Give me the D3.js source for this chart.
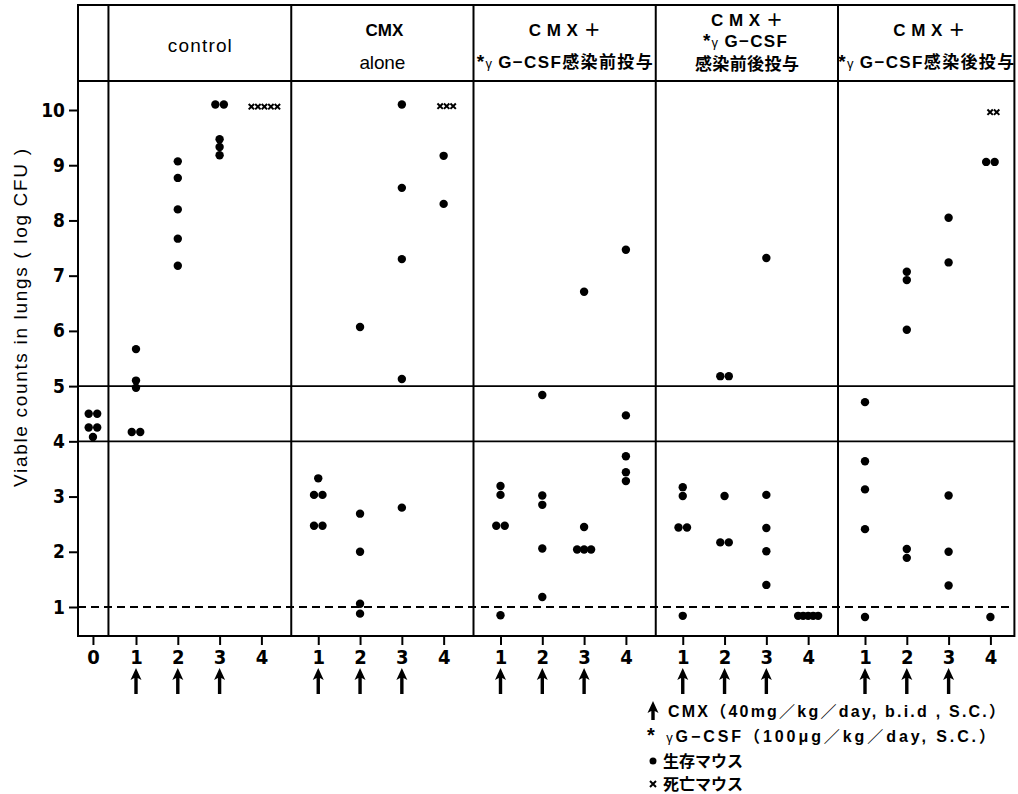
<!DOCTYPE html>
<html><head><meta charset="utf-8">
<script src="https://cdn.jsdelivr.net/npm/d3@7"></script>
<style>body{margin:0;background:#fff}</style>
</head><body><svg id="c" width="1018" height="794"></svg>
<script>
// ---------- data ----------
const groupNames = ["control", "CMX alone", "CMX+ γG-CSF 感染前投与", "CMX+ γG-CSF 感染前後投与", "CMX+ γG-CSF 感染後投与"];
const dayLabels = [1, 2, 3, 4];
const yTickValues = [1, 2, 3, 4, 5, 6, 7, 8, 9, 10];
const cmxDays = [1, 2, 3];
const detectionLimit = 1;
const bandLines = [4, 5];

const day0Alive = [4.5, 4.5, 4.25, 4.25, 4.08];

const controlAlive = [[5.67, 5.1, 4.97, 4.17, 4.17], [9.07, 8.77, 8.2, 7.67, 7.18], [10.1, 10.1, 9.47, 9.33, 9.18], []];
const controlDead  = [[], [], [], [10.06, 10.06, 10.06, 10.06, 10.06]];

const aloneAlive = [[3.33, 3.03, 3.03, 2.47, 2.47], [6.07, 2.69, 2.0, 1.06, 0.88], [10.1, 8.59, 7.3, 5.13, 2.8], [9.17, 8.3]];
const aloneDead  = [[], [], [], [10.07, 10.07, 10.07]];

const preAlive = [[3.19, 3.03, 2.47, 2.47, 0.85], [4.84, 3.02, 2.85, 2.06, 1.18], [6.71, 2.45, 2.04, 2.04, 2.04], [7.47, 4.47, 3.73, 3.44, 3.28]];
const preDead  = [[], [], [], []];

const prePostAlive = [[3.17, 3.01, 2.44, 2.44, 0.84], [5.18, 5.18, 3.01, 2.17, 2.17], [7.32, 3.03, 2.43, 2.01, 1.4], [0.84, 0.84, 0.84, 0.84, 0.84]];
const prePostDead  = [[], [], [], []];

const postAlive = [[4.71, 3.64, 3.13, 2.41, 0.82], [7.07, 6.92, 6.02, 2.05, 1.89], [8.05, 7.24, 3.02, 2.0, 1.39], [9.06, 9.06, 0.82]];
const postDead  = [[], [], [], [9.96, 9.96]];

const aliveByGroup = [controlAlive, aloneAlive, preAlive, prePostAlive, postAlive];
const deadByGroup = [controlDead, aloneDead, preDead, prePostDead, postDead];

// ---------- layout ----------
const svg = d3.select("#c");
const y = d3.scaleLinear().domain([1, 10]).range([607, 110]);
const slot = d3.scaleLinear().domain([0, 1]).range([136, 177.8]);
const groupStride = 182.25 / 41.8;
const xpos = (g, k) => slot(g * groupStride + k - 1);
const day0Slot = -1.03;

const frameTop = 5, headerBottom = 81, frameBottom = 636, frameLeft = 78;
const frameRight = xpos(4, 4) + 24;
const sepX = [slot(day0Slot) + 15.5].concat(d3.range(1, 5).map(g => xpos(g, 1) - 27));

const LAT = "'Liberation Sans', Arial, 'Noto Sans CJK JP', sans-serif";
const NAR = "'Liberation Sans Narrow', 'Arial Narrow', 'DejaVu Sans Condensed', sans-serif";
const CJK = "'Liberation Sans', 'Noto Sans CJK JP', sans-serif";

// horizontal band lines
svg.selectAll(".band").data(bandLines).join("line")
  .attr("x1", frameLeft).attr("x2", frameRight)
  .attr("y1", d => y(d)).attr("y2", d => y(d))
  .attr("stroke", "#000").attr("stroke-width", 1.8);

// detection limit dashed line
svg.append("line").attr("x1", frameLeft).attr("x2", frameRight)
  .attr("y1", y(detectionLimit)).attr("y2", y(detectionLimit))
  .attr("stroke", "#000").attr("stroke-width", 2).attr("stroke-dasharray", "8,5");

// header line + separators + frame
svg.append("line").attr("x1", frameLeft).attr("x2", frameRight).attr("y1", headerBottom).attr("y2", headerBottom)
  .attr("stroke", "#000").attr("stroke-width", 2);
svg.selectAll(".sep").data(sepX).join("line")
  .attr("x1", d => d).attr("x2", d => d).attr("y1", frameTop).attr("y2", frameBottom)
  .attr("stroke", "#000").attr("stroke-width", 2);
svg.append("rect").attr("x", frameLeft).attr("y", frameTop).attr("width", frameRight - frameLeft).attr("height", frameBottom - frameTop)
  .attr("fill", "none").attr("stroke", "#000").attr("stroke-width", 2);

// y axis
const ya = svg.append("g").attr("transform", `translate(${frameLeft},0)`)
  .call(d3.axisLeft(y).tickValues(yTickValues).tickSize(9).tickPadding(4).tickFormat(d3.format("d")));
ya.select(".domain").remove();
ya.selectAll(".tick line").attr("stroke-width", 2);
ya.selectAll(".tick text").attr("font-family", NAR).attr("font-weight", "bold").attr("font-size", 19).attr("fill", "#000");

// x axis
const xTicks = [{s: day0Slot, label: 0}];
for (let g = 0; g < 5; g++) dayLabels.forEach(k => xTicks.push({s: g * groupStride + k - 1, label: k}));
const xa = svg.append("g").attr("transform", `translate(0,${frameBottom})`)
  .call(d3.axisBottom(slot).tickValues(xTicks.map(t => t.s)).tickSize(9).tickPadding(5)
    .tickFormat((d, i) => xTicks[i].label));
xa.select(".domain").remove();
xa.selectAll(".tick line").attr("stroke-width", 2);
xa.selectAll(".tick text").attr("font-family", NAR).attr("font-weight", "bold").attr("font-size", 20).attr("fill", "#000");

// arrows (CMX dosing)
function arrow(sel, cx, y0, y1) {
  const hw = 5.5, hh = 12;
  sel.append("path")
    .attr("d", `M${cx},${y0} L${cx + hw},${y0 + hh} L${cx + 1.7},${y0 + hh - 2} L${cx + 1.7},${y1} L${cx - 1.7},${y1} L${cx - 1.7},${y0 + hh - 2} L${cx - hw},${y0 + hh} Z`)
    .attr("fill", "#000");
}
for (let g = 0; g < 5; g++) cmxDays.forEach(k => arrow(svg, xpos(g, k), 668, 694));

// points
function spread(values, spacingFn) {
  const out = [];
  const groupsMap = d3.group(values, v => v);
  for (const [v, arr] of groupsMap) {
    const n = arr.length, sp = spacingFn(n);
    arr.forEach((_, i) => out.push({v, off: (i - (n - 1) / 2) * sp}));
  }
  return out;
}
const dotSpacing = n => n <= 2 ? 8.5 : n === 3 ? 7 : 5;
const dots = [];
spread(day0Alive, dotSpacing).forEach(p => dots.push({x: slot(day0Slot) + p.off, y: y(p.v)}));
aliveByGroup.forEach((gArr, g) => gArr.forEach((vals, ki) =>
  spread(vals, dotSpacing).forEach(p => dots.push({x: xpos(g, dayLabels[ki]) + p.off, y: y(p.v)}))));
svg.selectAll(".dot").data(dots).join("circle")
  .attr("cx", d => d.x).attr("cy", d => d.y).attr("r", 4.2).attr("fill", "#000");

const crosses = [];
deadByGroup.forEach((gArr, g) => gArr.forEach((vals, ki) =>
  spread(vals, () => 6.5).forEach(p => crosses.push({x: xpos(g, dayLabels[ki]) + 3 + p.off, y: y(p.v)}))));
const cs = 2.7;
svg.selectAll(".cross").data(crosses).join("path")
  .attr("d", d => `M${d.x - cs},${d.y - cs}L${d.x + cs},${d.y + cs}M${d.x - cs},${d.y + cs}L${d.x + cs},${d.y - cs}`)
  .attr("stroke", "#000").attr("stroke-width", 2);

// y label
svg.append("text").attr("transform", "translate(27,318) rotate(-90)")
  .attr("text-anchor", "middle").attr("font-family", LAT).attr("font-size", 19)
  .attr("textLength", 338).attr("lengthAdjust", "spacing")
  .text("Viable counts in lungs ( log CFU )");

// header labels
const cx = g => (sepX[g] + (g < 4 ? sepX[g + 1] : frameRight)) / 2;
function htext(x, yy, txt, opts = {}) {
  const t = svg.append("text").attr("x", x).attr("y", yy).attr("text-anchor", "middle")
    .attr("font-family", opts.family || LAT).attr("font-size", opts.size || 16)
    .attr("font-weight", opts.weight || "bold");
  if (opts.len) t.attr("textLength", opts.len).attr("lengthAdjust", "spacing");
  t.text(txt);
  return t;
}
function gcsfLine(x, yy, suffix, len) {
  const t = svg.append("text").attr("x", x).attr("y", yy).attr("text-anchor", "middle")
    .attr("font-family", CJK).attr("font-size", 17).attr("font-weight", "bold");
  if (len) t.attr("textLength", len).attr("lengthAdjust", "spacing");
  t.append("tspan").attr("font-size", 19).text("*");
  t.append("tspan").attr("font-size", 13).attr("font-weight", "normal").text("γ ");
  t.append("tspan").text("G−CSF" + suffix);
}
htext(cx(0), 52, "control", {weight: "normal", size: 19, len: 64});
htext(cx(1) + 2, 36, "CMX", {size: 17, len: 38});
htext(cx(1), 69, "alone", {weight: "normal", size: 19, len: 46});
htext(cx(2), 36, "CMX＋", {size: 17, len: 72});
gcsfLine(cx(2), 68, "感染前投与", 176);
htext(cx(3), 26, "CMX＋", {size: 17, len: 72});
gcsfLine(cx(3) - 2, 47, "", 84);
htext(cx(3), 70, "感染前後投与", {family: CJK, size: 17, len: 104});
htext(cx(4) + 3, 36, "CMX＋", {size: 17, len: 72});
gcsfLine(cx(4), 68, "感染後投与", 176);

// legend
const lx = 653;
arrow(svg, lx, 701, 720);
svg.append("text").attr("x", 668).attr("y", 717).attr("font-family", CJK).attr("font-size", 16)
  .attr("font-weight", "bold").attr("textLength", 337).attr("lengthAdjust", "spacing")
  .text("CMX（40mg／kg／day, b.i.d , S.C.）");
const l2 = svg.append("text").attr("x", 647).attr("y", 742).attr("font-family", CJK).attr("font-size", 16)
  .attr("font-weight", "bold").attr("textLength", 348).attr("lengthAdjust", "spacing");
l2.append("tspan").attr("font-size", 20).text("* ");
l2.append("tspan").attr("font-size", 13).attr("font-weight", "normal").text("γ");
l2.append("tspan").text("G−CSF（100μg／kg／day, S.C.）");
svg.append("circle").attr("cx", lx).attr("cy", 761).attr("r", 3.5).attr("fill", "#000");
svg.append("text").attr("x", 663).attr("y", 767).attr("font-family", CJK).attr("font-size", 16)
  .attr("font-weight", "bold").text("生存マウス");
svg.append("path").attr("d", `M${lx - 3},${781}L${lx + 3},${787}M${lx - 3},${787}L${lx + 3},${781}`)
  .attr("stroke", "#000").attr("stroke-width", 2);
svg.append("text").attr("x", 663).attr("y", 790).attr("font-family", CJK).attr("font-size", 16)
  .attr("font-weight", "bold").text("死亡マウス");
</script></body></html>
